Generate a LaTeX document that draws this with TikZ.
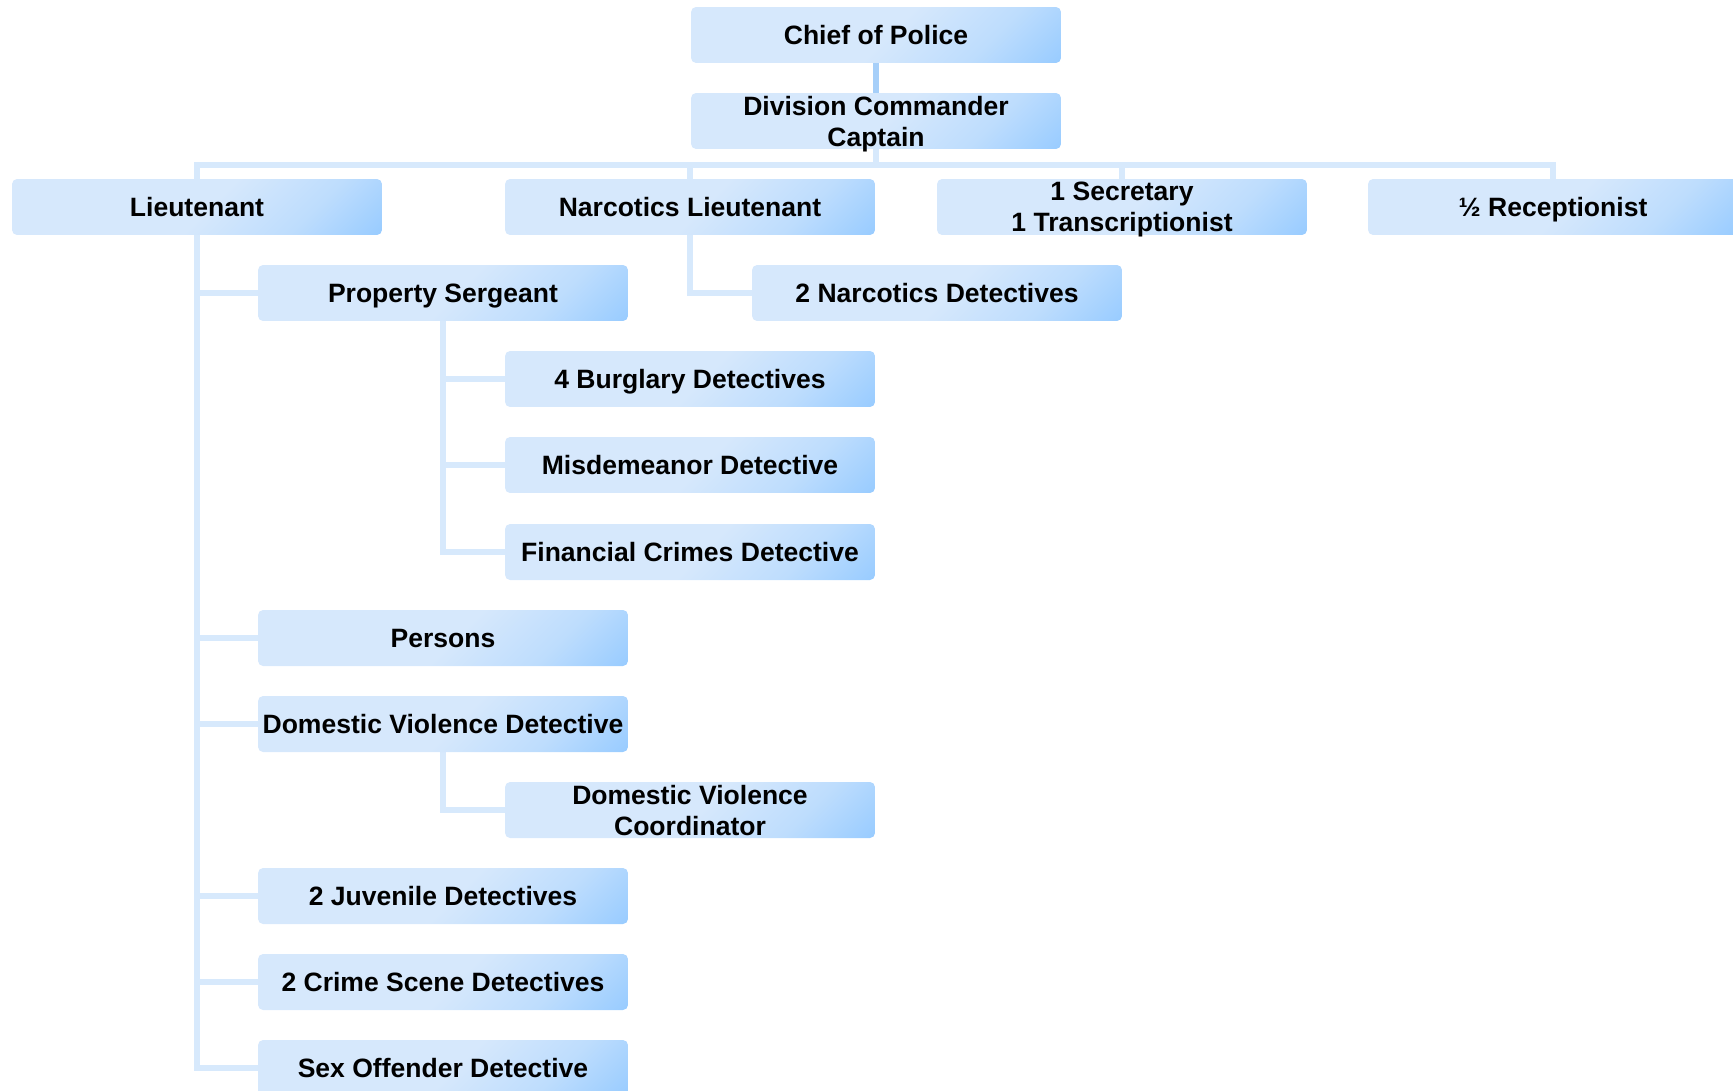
\documentclass[tikz,border=0pt]{standalone}
\usepackage{fontspec}
\setmainfont{Liberation Sans}
\usepackage{tikz}
\usetikzlibrary{backgrounds}
\definecolor{boxlight}{RGB}{214,232,252}
\definecolor{boxdark}{RGB}{153,204,255}
\definecolor{linklight}{RGB}{215,233,252}
\definecolor{linkdark}{RGB}{166,207,249}
\pgfdeclareverticalshading{rankshade}{100bp}{
    color(0bp)=(boxdark); color(15bp)=(boxdark);
    color(30bp)=(boxlight!60!boxdark); color(48bp)=(boxlight);
    color(100bp)=(boxlight)}
\tikzstyle{rank} = [
    rectangle,
    rounded corners=0.1cm,
    shade,
    shading=rankshade,
    shading angle=45,
    minimum width=7.4cm,
    minimum height=1.12cm,
    inner sep=0pt,
    align=center,
    text depth=0pt,
    font=\fontsize{15.1}{17.6}\selectfont\bfseries
]
\tikzstyle{link} = [
    line width=0.12cm,
    draw=linklight
]

\begin{document}
\begin{tikzpicture}[x=0.02cm, y=-0.02cm]
        \useasboundingbox (0,0) rectangle (1733,1091);

        % Command
        \node[rank] (chief) at (876,35) {Chief of Police};
        \node[rank] (commander) at (876,121) {Division Commander\\Captain};

        % First level
        \node[rank] (lieutenant) at (197,207) {Lieutenant};
        \node[rank] (narclt) at (690,207) {Narcotics Lieutenant};
        \node[rank] (secretary) at (1122,207) {1 Secretary\\1 Transcriptionist};
        \node[rank] (reception) at (1553,207) {½ Receptionist};

        % Under the lieutenants
        \node[rank] (property) at (443,293) {Property Sergeant};
        \node[rank] (narcdet) at (937,293) {2 Narcotics Detectives};
        \node[rank] (burglary) at (690,379) {4 Burglary Detectives};
        \node[rank] (misdemeanor) at (690,465) {Misdemeanor Detective};
        \node[rank] (financial) at (690,552) {Financial Crimes Detective};
        \node[rank] (persons) at (443,638) {Persons};
        \node[rank] (dvdet) at (443,724) {Domestic Violence Detective};
        \node[rank] (dvcoord) at (690,810) {Domestic Violence\\Coordinator};
        \node[rank] (juvenile) at (443,896) {2 Juvenile Detectives};
        \node[rank] (crimescene) at (443,982) {2 Crime Scene Detectives};
        \node[rank] (sexoffender) at (443,1068) {Sex Offender Detective};

        % Lines
        \begin{scope}[on background layer]
            \draw[link, draw=linkdark] (chief) -- (commander);
            \foreach \n in {lieutenant,narclt,secretary,reception}
                \draw[link] (commander.south) -- ++(0,16) -| (\n.north);
            \foreach \n in {property,persons,dvdet,juvenile,crimescene,sexoffender}
                \draw[link] (lieutenant.south) |- (\n.west);
            \foreach \n in {burglary,misdemeanor,financial}
                \draw[link] (property.south) |- (\n.west);
            \draw[link] (narclt.south) |- (narcdet.west);
            \draw[link] (dvdet.south) |- (dvcoord.west);
        \end{scope}
    \end{tikzpicture}
\end{document}
